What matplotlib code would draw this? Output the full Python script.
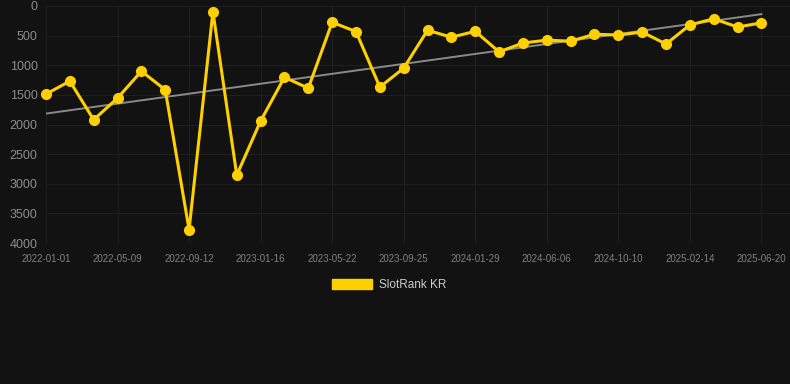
import numpy as np
import matplotlib.pyplot as plt
import matplotlib.patches as mpatches

# tick labels, one every third point
tick_labels = ['2022-01-01', '2022-05-09', '2022-09-12', '2023-01-16',
               '2023-05-22', '2023-09-25', '2024-01-29', '2024-06-06',
               '2024-10-10', '2025-02-14', '2025-06-20']

# rank values
ranks = [1487, 1268, 1920, 1554, 1100, 1414, 3775, 96, 2855, 1941,
         1203, 1387, 275, 432, 1369, 1049, 409, 527, 427, 774,
         625, 576, 594, 476, 490, 440, 642, 320, 216, 355, 285]

series_name = 'SlotRank KR'

bg = '#121212'
yellow = '#FFD000'

plt.rcParams['font.family'] = ['Liberation Sans', 'DejaVu Sans']

fig = plt.figure(figsize=(7.9, 3.84), dpi=100, facecolor=bg)
ax = fig.add_axes([46 / 790, 1 - 243 / 384, 1 - 46 / 790, (243 - 6) / 384])
ax.set_facecolor(bg)

x = np.arange(len(ranks))

# linear trend
k, b = np.polyfit(x, ranks, 1)
ax.plot(x, k * x + b, color='#8a8a8a', linewidth=1.4, zorder=2)

ax.plot(x, ranks, color=yellow, linewidth=2.2, marker='o', markersize=7,
        zorder=3, clip_on=False)

ax.set_xlim(0, 31.2)
ax.set_ylim(4000, 0)
ax.set_yticks(np.arange(0, 4001, 500))
ax.set_xticks(np.arange(0, len(ranks), 3))
ax.set_xticklabels(tick_labels)

ax.grid(True, color='#1f1f1f', linewidth=0.8)
ax.set_axisbelow(True)
for s in ax.spines.values():
    s.set_visible(False)

ax.tick_params(axis='y', length=0, pad=6, labelsize=9, labelcolor='#8c8c8c')
ax.tick_params(axis='x', length=0, pad=8, labelsize=7, labelcolor='#808080')

handle = mpatches.Patch(color=yellow, label=series_name)
fig.legend(handles=[handle], loc='center', bbox_to_anchor=(389 / 790, 1 - 285 / 384),
           frameon=False, fontsize=8.5, labelcolor='#cccccc',
           handlelength=3.4, handleheight=1.0, handletextpad=0.6)

fig.savefig('out.png', dpi=100, facecolor=bg)
